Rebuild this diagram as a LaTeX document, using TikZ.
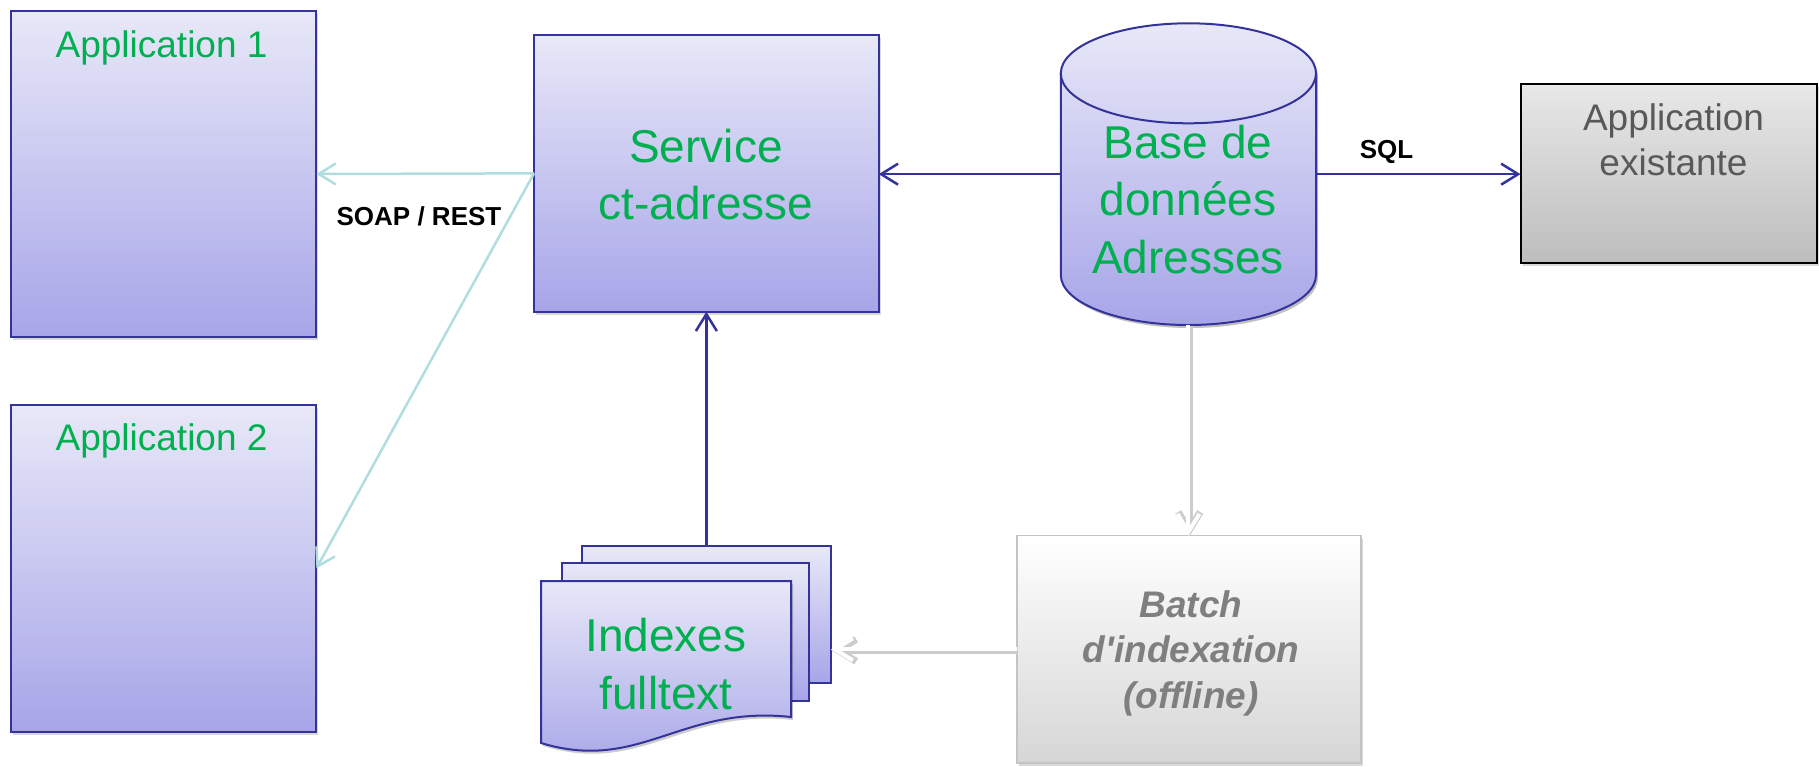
\documentclass[tikz,border=0pt]{standalone}
\usepackage{fontspec}
\setmainfont{Liberation Sans}[Ligatures=TeXOff]
\usetikzlibrary{arrows.meta,shadows}
\definecolor{lavtop}{HTML}{E8E8F8}
\definecolor{lavbot}{HTML}{A7A5E8}
\definecolor{bord}{HTML}{33339A}
\definecolor{grn}{HTML}{00B050}
\definecolor{cyanarr}{HTML}{B2DDE0}
\definecolor{darkgr}{HTML}{595959}
\definecolor{midgr}{HTML}{7F7F7F}
\definecolor{batbord}{HTML}{C4C4C4}
\definecolor{graytop}{HTML}{E8E8E8}
\definecolor{graybot}{HTML}{BDBDBD}
\definecolor{battop}{HTML}{FFFFFF}
\definecolor{batbot}{HTML}{D6D6D6}
\begin{document}
\begin{tikzpicture}[x=1pt,y=-1pt,
  shad/.style={drop shadow={shadow xshift=2pt,shadow yshift=-3pt,opacity=0.3}},
  bluebox/.style={draw=bord, line width=2pt, top color=lavtop, bottom color=lavbot, shad, inner sep=0pt, outer sep=0pt},
  graybox/.style={draw=black, line width=2pt, top color=graytop, bottom color=graybot, shad, inner sep=0pt, outer sep=0pt},
  batbox/.style={draw=batbord, line width=1.5pt, top color=battop, bottom color=batbot, shad, inner sep=0pt, outer sep=0pt},
  docsheet/.style={draw=bord, line width=2pt, top color=lavtop, bottom color=lavbot},
  lbl/.style={anchor=base, inner sep=0pt, text=grn},
  fsmall/.style={font=\fontsize{37}{45}\selectfont},
  fbig/.style={font=\fontsize{46}{57}\selectfont},
  fbold/.style={font=\fontsize{26}{30}\selectfont\bfseries},
  blarr/.style={draw=bord, line width=2.5pt, -{Straight Barb[length=17pt,width=21pt]}},
  cyarr/.style={draw=cyanarr, line width=2.5pt, -{Straight Barb[length=17pt,width=21pt]}},
  wharr/.style={draw=white, line width=4pt, -{Straight Barb[length=18pt,width=22pt]}},
  whshad/.style={draw=black!20, line width=7pt, -{Straight Barb[length=18pt,width=22pt]}},
]
\useasboundingbox (0,0) rectangle (1819,766);

% boxes
\node[bluebox, minimum width=305.7pt, minimum height=326.6pt] (app1) at (163.55,174) {};
\node[lbl, fsmall] (app1t) at (161.6,57.3) {Application 1};

\node[bluebox, minimum width=305.7pt, minimum height=326.7pt] (app2) at (163.55,568.35) {};
\node[lbl, fsmall] (app2t) at (161.6,450.7) {Application 2};

\node[bluebox, minimum width=344.7pt, minimum height=276.7pt] (svc) at (706.35,173.35) {};
\node[lbl, fbig] (svct1) at (706,162.3) {Service};
\node[lbl, fbig] (svct2) at (706,219) {ct-adresse};

% database cylinder
\node[minimum width=255.2pt, minimum height=301.7pt, inner sep=0pt, outer sep=0pt] (db) at (1188.4,174.15) {};
\path[fill=black, opacity=0.25, shift={(2,3)}]
  (1060.8,73.3) -- (1060.8,275) arc[start angle=180,end angle=360,x radius=127.6pt,y radius=50pt]
  -- (1316,73.3) arc[start angle=0,end angle=180,x radius=127.6pt,y radius=50pt] -- cycle;
\path[draw=bord, line width=2pt, top color=lavtop, bottom color=lavbot]
  (1060.8,73.3) -- (1060.8,275) arc[start angle=180,end angle=360,x radius=127.6pt,y radius=50pt]
  -- (1316,73.3) arc[start angle=0,end angle=180,x radius=127.6pt,y radius=50pt] -- cycle;
\draw[draw=bord, line width=2pt] (1060.8,73.3) arc[start angle=180,end angle=360,x radius=127.6pt,y radius=50pt];
\node[lbl, fbig] (dbt1) at (1188,158) {Base de};
\node[lbl, fbig] (dbt2) at (1188,215.5) {données};
\node[lbl, fbig] (dbt3) at (1188,273) {Adresses};

% existing application
\node[graybox, minimum width=296.5pt, minimum height=178.7pt] (appx) at (1668.75,173.35) {};
\node[lbl, fsmall, text=darkgr] (appxt1) at (1673.5,130) {Application};
\node[lbl, fsmall, text=darkgr] (appxt2) at (1673.5,175) {existante};

% indexes (stacked documents)
\node[minimum width=290pt, minimum height=206pt, inner sep=0pt, outer sep=0pt] (idx) at (686,649) {};
\path[docsheet] (582,546) rectangle (831,683);
\path[docsheet] (562,563) rectangle (809,701);
\path[fill=black, opacity=0.2, shift={(2,3)}] (541,581) -- (791,581) -- (791,717)
  .. controls (680,705) and (640,773) .. (541,743) -- cycle;
\path[docsheet] (541,581) -- (791,581) -- (791,717)
  .. controls (680,705) and (640,773) .. (541,743) -- cycle;
\node[lbl, fbig] (idxt1) at (666,651.7) {Indexes};
\node[lbl, fbig] (idxt2) at (666,709.3) {fulltext};

% batch
\node[batbox, minimum width=344pt, minimum height=227.3pt] (batch) at (1189,649.35) {};
\node[lbl, text=midgr, font=\fontsize{37}{45}\selectfont\bfseries\itshape] (bt1) at (1191,617.7) {Batch};
\node[lbl, text=midgr, font=\fontsize{37}{45}\selectfont\bfseries\itshape] (bt2) at (1191,662.7) {d'indexation};
\node[lbl, text=midgr, font=\fontsize{37}{45}\selectfont\bfseries\itshape] (bt3) at (1191,708) {(offline)};

% connectors
\draw[cyarr] (svc.west) -- (app1.east);
\draw[cyarr] (svc.west) -- (app2.east);
\node[lbl, fbold, text=black] (soap) at (419,225) {SOAP / REST};

\draw[blarr] (db.west) -- (db.west -| svc.east);
\draw[blarr] (db.east) -- (db.east -| appx.west);
\node[lbl, fbold, text=black] (sql) at (1386.5,158.3) {SQL};

\draw[blarr] (svc.south |- idx.north) -- (svc.south);

\coordinate (dbb) at (db.south);
\coordinate (bwest) at (batch.west);
\coordinate (btop) at (dbb |- batch.north);
\coordinate (idxr) at (bwest -| idx.east);
\draw[whshad] ([shift={(0.8pt,-1pt)}]dbb) -- ([shift={(0.8pt,-1pt)}]btop);
\draw[wharr] (dbb) -- (btop);
\draw[whshad] ([shift={(0.5pt,-1pt)}]bwest) -- ([shift={(0.5pt,-1pt)}]idxr);
\draw[wharr] (bwest) -- (idxr);
\end{tikzpicture}
\end{document}
